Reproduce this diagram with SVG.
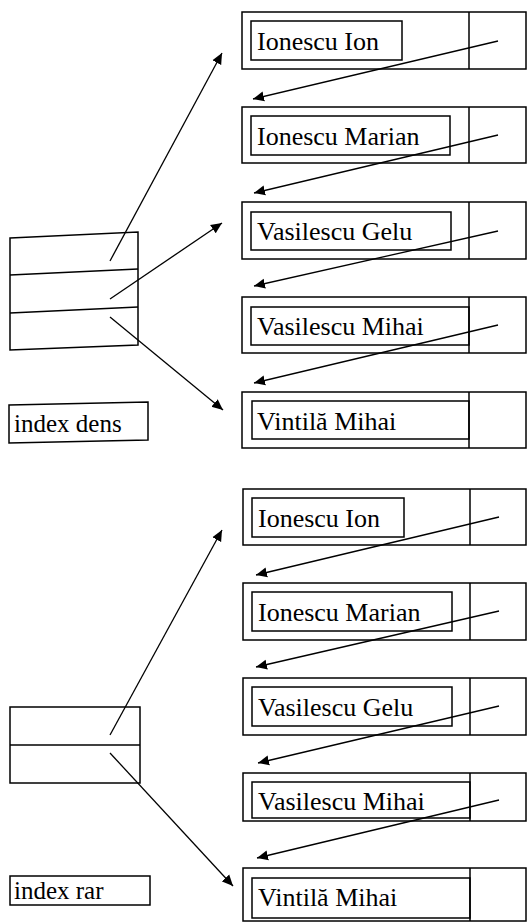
<svg xmlns="http://www.w3.org/2000/svg" width="527" height="923" viewBox="0 0 527 923">
<style>
.b{fill:none;stroke:#000;stroke-width:1.5}
.c{fill:none;stroke:#000;stroke-width:1.3}
.t{font-family:"Liberation Serif","Times New Roman",serif;font-size:25px;fill:#000}
.r{font-size:26px}
</style>
<defs>
<marker id="ah" markerUnits="userSpaceOnUse" markerWidth="12" markerHeight="12" viewBox="0 0 12 12" refX="11" refY="6" orient="auto">
<path d="M0,1 L11,6 L0,11 Z" fill="#000"/>
</marker>
</defs>
<rect width="527" height="923" fill="#fff"/>
<!-- top section: dense index -->
<g id="dens-index">
<path class="b" d="M10,238 L138,232 L138,345 L10,350 Z"/>
<path class="b" d="M10,275 L138,269"/>
<path class="b" d="M10,313 L138,307"/>
</g>
<g id="dens-label">
<path class="b" d="M9,405 L148,402 L148,440 L9,443 Z"/>
<text class="t" x="14" y="432">index dens</text>
</g>
<g id="d-r1"><rect class="b" x="242" y="12" width="284" height="57"/><line class="b" x1="469" y1="12" x2="469" y2="69"/><rect class="b" x="251" y="21" width="151" height="39"/><text class="t r" x="257" y="50">Ionescu Ion</text></g>
<g id="d-r2"><rect class="b" x="242" y="107" width="284" height="56"/><line class="b" x1="469" y1="107" x2="469" y2="163"/><rect class="b" x="251" y="116" width="199" height="39"/><text class="t r" x="257" y="145">Ionescu Marian</text></g>
<g id="d-r3"><rect class="b" x="242" y="202" width="284" height="57"/><line class="b" x1="469" y1="202" x2="469" y2="259"/><rect class="b" x="251" y="212" width="200" height="38"/><text class="t r" x="257" y="240">Vasilescu Gelu</text></g>
<g id="d-r4"><rect class="b" x="242" y="297" width="284" height="56"/><line class="b" x1="469" y1="297" x2="469" y2="353"/><rect class="b" x="251" y="307" width="218" height="38"/><text class="t r" x="257" y="335">Vasilescu Mihai</text></g>
<g id="d-r5"><rect class="b" x="242" y="392" width="284" height="56"/><line class="b" x1="469" y1="392" x2="469" y2="448"/><rect class="b" x="252" y="401" width="217" height="38"/><text class="t r" x="257" y="430">Vintilă Mihai</text></g>
<!-- bottom section: sparse index -->
<g id="rar-index">
<rect class="b" x="10" y="707" width="130" height="76"/>
<line class="b" x1="10" y1="745" x2="140" y2="745"/>
</g>
<g id="rar-label">
<rect class="b" x="10" y="876" width="140" height="29"/>
<text class="t" x="14" y="899">index rar</text>
</g>
<g id="r-r1"><rect class="b" x="243" y="489" width="283" height="56"/><line class="b" x1="470" y1="489" x2="470" y2="545"/><rect class="b" x="252" y="498" width="152" height="39"/><text class="t r" x="258" y="527">Ionescu Ion</text></g>
<g id="r-r2"><rect class="b" x="243" y="583" width="283" height="57"/><line class="b" x1="470" y1="583" x2="470" y2="640"/><rect class="b" x="252" y="592" width="200" height="39"/><text class="t r" x="258" y="621">Ionescu Marian</text></g>
<g id="r-r3"><rect class="b" x="243" y="678" width="283" height="57"/><line class="b" x1="470" y1="678" x2="470" y2="735"/><rect class="b" x="252" y="687" width="200" height="39"/><text class="t r" x="258" y="716">Vasilescu Gelu</text></g>
<g id="r-r4"><rect class="b" x="243" y="773" width="283" height="48"/><line class="b" x1="470" y1="773" x2="470" y2="821"/><rect class="b" x="252" y="782" width="218" height="36"/><text class="t r" x="258" y="810">Vasilescu Mihai</text></g>
<g id="r-r5"><rect class="b" x="243" y="868" width="283" height="53"/><line class="b" x1="470" y1="868" x2="470" y2="921"/><rect class="b" x="252" y="878" width="218" height="40"/><text class="t r" x="258" y="906">Vintilă Mihai</text></g>
<g id="connectors">
<line class="c" x1="110" y1="261" x2="222" y2="53" marker-end="url(#ah)"/>
<line class="c" x1="110" y1="299" x2="222" y2="223" marker-end="url(#ah)"/>
<line class="c" x1="110" y1="317" x2="223" y2="410" marker-end="url(#ah)"/>
<line class="c" x1="498" y1="41" x2="253" y2="99" marker-end="url(#ah)"/>
<line class="c" x1="498" y1="135" x2="254" y2="193" marker-end="url(#ah)"/>
<line class="c" x1="498" y1="231" x2="254" y2="286" marker-end="url(#ah)"/>
<line class="c" x1="498" y1="325" x2="254" y2="383" marker-end="url(#ah)"/>
<line class="c" x1="110" y1="735" x2="222" y2="530" marker-end="url(#ah)"/>
<line class="c" x1="110" y1="753" x2="233" y2="886" marker-end="url(#ah)"/>
<line class="c" x1="499" y1="517" x2="256" y2="575" marker-end="url(#ah)"/>
<line class="c" x1="499" y1="611" x2="256" y2="667" marker-end="url(#ah)"/>
<line class="c" x1="499" y1="706" x2="258" y2="763" marker-end="url(#ah)"/>
<line class="c" x1="499" y1="800" x2="257" y2="858" marker-end="url(#ah)"/>
</g>
</svg>
